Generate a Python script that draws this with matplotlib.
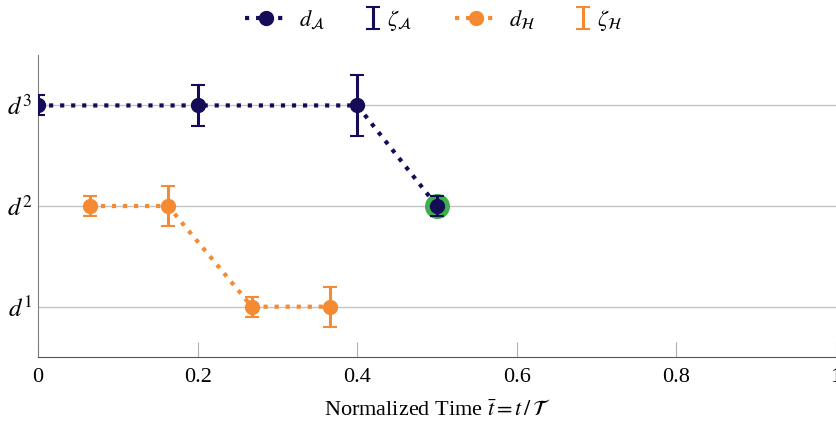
import matplotlib.pyplot as plt
from matplotlib.legend_handler import HandlerErrorbar, HandlerLine2D

plt.rcParams['font.family'] = ['Liberation Serif', 'DejaVu Serif']
plt.rcParams['mathtext.fontset'] = 'stix'

# agent A
tA = [0.0, 0.2, 0.4, 0.5]
dA = [3, 3, 3, 2]
errA = [0.1, 0.2, 0.3, 0.1]

# agent H
tH = [0.065, 0.163, 0.268, 0.366]
dH = [2, 2, 1, 1]
errH = [0.1, 0.2, 0.1, 0.2]

# highlighted point
tG = [0.5]
dG = [2]

yticks = [1, 2, 3]
ylabels = ['$d^1$', '$d^2$', '$d^3$']
xticks = [0, 0.2, 0.4, 0.6, 0.8, 1]
xlabels = ['0', '0.2', '0.4', '0.6', '0.8', '1']

navy = '#150c57'
orange = '#f58a33'
green = '#3db049'


# narrow error bar symbol at the right end of its legend box
class NarrowErr(HandlerErrorbar):
    def adjust_drawing_area(self, legend, orig_handle, xdescent, ydescent, width, height, fontsize):
        small = 0.3 * fontsize
        return xdescent - (width - small), ydescent, small, height


# longer line symbol that reaches out to the left of its legend box
class LongLine(HandlerLine2D):
    def adjust_drawing_area(self, legend, orig_handle, xdescent, ydescent, width, height, fontsize):
        long = 1.94 * fontsize
        return xdescent + (long - width), ydescent, long, height


fig = plt.figure(figsize=(8.37, 4.24), dpi=100)
ax = fig.add_axes([0.0454, 0.158, 0.9534, 0.712])

ax.plot(tG, dG, 'o', color=green, markersize=17, zorder=2)

lA, = ax.plot(tA, dA, ':o', color=navy, linewidth=3, markersize=10, zorder=3)
eA = ax.errorbar(tA, dA, yerr=errA, fmt='none', ecolor=navy, elinewidth=2.2, capsize=5,
                 capthick=1.5, zorder=3)
lH, = ax.plot(tH, dH, ':o', color=orange, linewidth=3, markersize=10, zorder=3)
eH = ax.errorbar(tH, dH, yerr=errH, fmt='none', ecolor=orange, elinewidth=2.2, capsize=5,
                 capthick=1.5, zorder=3)

ax.set_xlim(0, 1)
ax.set_ylim(0.5, 3.5)
ax.set_xticks(xticks, xlabels)
ax.set_yticks(yticks, ylabels)
ax.yaxis.grid(True, color='#c4c4c4', linewidth=1)
ax.set_axisbelow(True)

for s in ['top', 'right']:
    ax.spines[s].set_visible(False)
ax.spines['left'].set_color('#808080')
ax.spines['bottom'].set_color('#555555')
ax.tick_params(axis='x', direction='in', length=11, color='#b0b0b0', labelsize=16, pad=8)
ax.tick_params(axis='y', direction='in', length=0, labelsize=18, pad=4)

ax.set_xlabel(r'Normalized Time $\bar{t} = t\,/\,\mathcal{T}$', fontsize=16, labelpad=9)

ax.legend([lA, eA, lH, eH],
          [r'$d_{\mathcal{A}}$', r'$\zeta_{\mathcal{A}}$' + ' ' * 7,
           r'$d_{\mathcal{H}}$', r'$\zeta_{\mathcal{H}}$'],
          handler_map={lA: LongLine(), lH: LongLine(), eA: NarrowErr(), eH: NarrowErr()},
          loc='lower center', bbox_to_anchor=(0.509, 1.045), ncol=4, frameon=False,
          fontsize=16, handlelength=1.0, handletextpad=0.5, columnspacing=1.3, borderaxespad=0.0)

fig.savefig('out.png', dpi=100)
